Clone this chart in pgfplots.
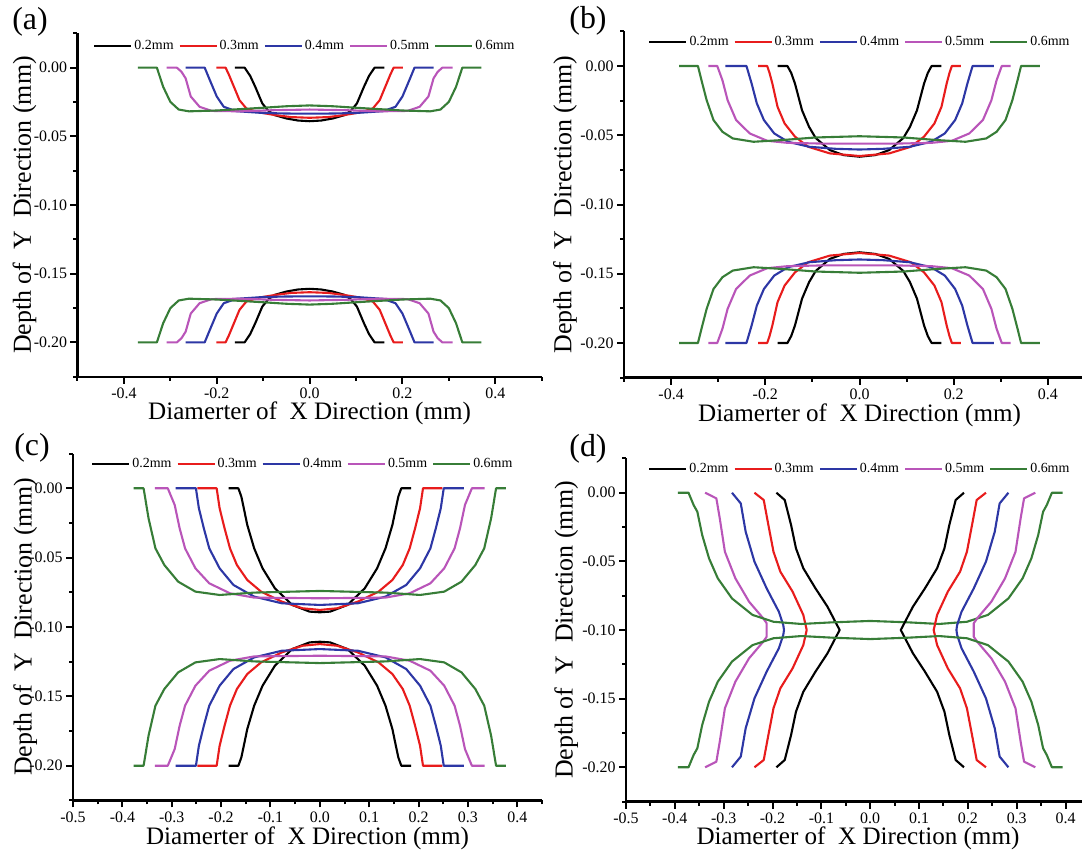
\documentclass[border=0pt]{standalone}
\usepackage{fontspec}
\setmainfont{Liberation Serif}
\usepackage{pgfplots}
\usepackage{pgfplotstable}
\pgfplotsset{compat=1.18}

\definecolor{cK}{RGB}{0,0,0}
\definecolor{cR}{RGB}{232,28,28}
\definecolor{cB}{RGB}{45,55,165}
\definecolor{cP}{RGB}{185,85,185}
\definecolor{cG}{RGB}{55,125,55}

\pgfplotsset{
  L/.style={line width=1.05bp, color=#1, line join=round,
    legend image code/.code={\draw[##1] (0bp,0bp) -- (18.5bp,0bp);}},
  panel/.style={
    scale only axis,
    axis lines=left,
    axis line style={-, line width=1.2bp, black},
    ymin=-0.225, ymax=0.025,
    ytick={-0.2,-0.15,-0.1,-0.05,0},
    yticklabels={-0.20,-0.15,-0.10,-0.05,0.00},
    minor ytick={-0.225,-0.175,-0.125,-0.075,-0.025,0.025},
    tick align=outside,
    major tick length=3.5bp, minor tick length=2bp,
    every tick/.style={black, line width=1bp},
    tick label style={font=\fontsize{8}{9}\selectfont},
    yticklabel style={inner xsep=1.5bp},
    xticklabel style={inner ysep=2bp},
    xlabel={Diamerter of\hspace{0.5em}X Direction (mm)},
    ylabel={Depth of\hspace{0.5em}Y\hspace{0.5em}Direction (mm)},
    xlabel style={font=\fontsize{12.6}{15}\selectfont, anchor=center},
    ylabel style={font=\fontsize{13}{15}\selectfont, anchor=center},
    legend columns=5,
    legend style={draw=none, fill=none, font=\fontsize{7}{8}\selectfont,
      inner sep=0pt, anchor=center,
      /tikz/every even column/.append style={column sep=1.5bp},
      nodes={inner xsep=1bp}},
    clip=false,
  },
  wide/.style={xmin=-0.5, xmax=0.5,
    xtick={-0.4,-0.2,0,0.2,0.4},
    xticklabels={-0.4,-0.2,0.0,0.2,0.4},
    minor xtick={-0.5,-0.3,-0.1,0.1,0.3,0.5}},
  fine/.style={xmin=-0.5, xmax=0.45,
    xtick={-0.5,-0.4,-0.3,-0.2,-0.1,0,0.1,0.2,0.3,0.4},
    xticklabels={-0.5,-0.4,-0.3,-0.2,-0.1,0.0,0.1,0.2,0.3,0.4},
    minor xtick={-0.45,-0.35,-0.25,-0.15,-0.05,0.05,0.15,0.25,0.35,0.45}},
}

% ---------------- panel (a) ----------------
\pgfplotstableread{
x t b
-0.161 0 -0.2
-0.140 0 -0.2
-0.128 -0.006 -0.194
-0.117 -0.014 -0.186
-0.102 -0.026 -0.174
-0.090 -0.031 -0.169
-0.076 -0.0345 -0.1655
-0.050 -0.037 -0.163
-0.025 -0.0385 -0.1615
0 -0.039 -0.161
0.025 -0.0385 -0.1615
0.050 -0.037 -0.163
0.076 -0.0345 -0.1655
0.090 -0.031 -0.169
0.102 -0.026 -0.174
0.117 -0.014 -0.186
0.128 -0.006 -0.194
0.140 0 -0.2
0.161 0 -0.2
}\aK
\pgfplotstableread{
x t b
-0.201 0 -0.2
-0.181 0 -0.2
-0.174 -0.005 -0.195
-0.166 -0.0115 -0.1885
-0.151 -0.0237 -0.1763
-0.136 -0.0298 -0.1702
-0.110 -0.0325 -0.1675
-0.075 -0.0345 -0.1655
-0.040 -0.036 -0.164
0 -0.0365 -0.1635
0.040 -0.036 -0.164
0.075 -0.0345 -0.1655
0.110 -0.0325 -0.1675
0.136 -0.0298 -0.1702
0.151 -0.0237 -0.1763
0.166 -0.0115 -0.1885
0.174 -0.005 -0.195
0.181 0 -0.2
0.201 0 -0.2
}\aR
\pgfplotstableread{
x t b
-0.267 0 -0.2
-0.226 0 -0.2
-0.215 -0.009 -0.191
-0.200 -0.021 -0.179
-0.185 -0.0285 -0.1715
-0.158 -0.0317 -0.1683
-0.100 -0.033 -0.167
-0.050 -0.0334 -0.1666
0 -0.0335 -0.1665
0.050 -0.0334 -0.1666
0.100 -0.033 -0.167
0.158 -0.0317 -0.1683
0.185 -0.0285 -0.1715
0.200 -0.021 -0.179
0.215 -0.009 -0.191
0.226 0 -0.2
0.267 0 -0.2
}\aB
\pgfplotstableread{
x t b
-0.308 0 -0.2
-0.286 0 -0.2
-0.276 -0.003 -0.197
-0.267 -0.0078 -0.1922
-0.256 -0.021 -0.179
-0.237 -0.0285 -0.1715
-0.211 -0.0315 -0.1685
-0.150 -0.0318 -0.1682
-0.080 -0.031 -0.169
0 -0.0305 -0.1695
0.080 -0.031 -0.169
0.150 -0.0318 -0.1682
0.211 -0.0315 -0.1685
0.237 -0.0285 -0.1715
0.256 -0.021 -0.179
0.267 -0.0078 -0.1922
0.276 -0.003 -0.197
0.286 0 -0.2
0.308 0 -0.2
}\aP
\pgfplotstableread{
x t b
-0.370 0 -0.2
-0.329 0 -0.2
-0.3155 -0.0139 -0.1861
-0.300 -0.0249 -0.1751
-0.282 -0.0305 -0.1695
-0.260 -0.0318 -0.1682
-0.200 -0.0312 -0.1688
-0.150 -0.0302 -0.1698
-0.100 -0.0292 -0.1708
-0.050 -0.0281 -0.1719
0 -0.0275 -0.1725
0.050 -0.0281 -0.1719
0.100 -0.0292 -0.1708
0.150 -0.0302 -0.1698
0.200 -0.0312 -0.1688
0.260 -0.0318 -0.1682
0.282 -0.0305 -0.1695
0.300 -0.0249 -0.1751
0.3155 -0.0139 -0.1861
0.329 0 -0.2
0.370 0 -0.2
}\aG

% ---------------- panel (b) ----------------
\pgfplotstableread{
x t b
-0.174 0 -0.2
-0.153 0 -0.2
-0.145 -0.005 -0.195
-0.137 -0.0127 -0.1873
-0.122 -0.032 -0.168
-0.107 -0.044 -0.156
-0.093 -0.052 -0.148
-0.063 -0.0607 -0.1393
-0.034 -0.0643 -0.1357
0 -0.0655 -0.1345
0.034 -0.0643 -0.1357
0.063 -0.0607 -0.1393
0.093 -0.052 -0.148
0.107 -0.044 -0.156
0.122 -0.032 -0.168
0.137 -0.0127 -0.1873
0.145 -0.005 -0.195
0.153 0 -0.2
0.174 0 -0.2
}\bK
\pgfplotstableread{
x t b
-0.215 0 -0.2
-0.196 0 -0.2
-0.191 -0.005 -0.195
-0.185 -0.0127 -0.1873
-0.174 -0.0295 -0.1705
-0.159 -0.0415 -0.1585
-0.137 -0.051 -0.149
-0.109 -0.0583 -0.1417
-0.063 -0.0631 -0.1369
0 -0.065 -0.135
0.063 -0.0631 -0.1369
0.109 -0.0583 -0.1417
0.137 -0.051 -0.149
0.159 -0.0415 -0.1585
0.174 -0.0295 -0.1705
0.185 -0.0127 -0.1873
0.191 -0.005 -0.195
0.196 0 -0.2
0.215 0 -0.2
}\bR
\pgfplotstableread{
x t b
-0.285 0 -0.2
-0.240 0 -0.2
-0.229 -0.0127 -0.1873
-0.218 -0.027 -0.173
-0.203 -0.039 -0.161
-0.181 -0.0487 -0.1513
-0.152 -0.0547 -0.1453
-0.107 -0.0583 -0.1417
-0.050 -0.0598 -0.1402
0 -0.0603 -0.1397
0.050 -0.0598 -0.1402
0.107 -0.0583 -0.1417
0.152 -0.0547 -0.1453
0.181 -0.0487 -0.1513
0.203 -0.039 -0.161
0.218 -0.027 -0.173
0.229 -0.0127 -0.1873
0.240 0 -0.2
0.285 0 -0.2
}\bB
\pgfplotstableread{
x t b
-0.321 0 -0.2
-0.302 0 -0.2
-0.291 -0.0103 -0.1897
-0.280 -0.0247 -0.1753
-0.262 -0.039 -0.161
-0.233 -0.0487 -0.1513
-0.196 -0.054 -0.146
-0.152 -0.0555 -0.1445
-0.080 -0.056 -0.144
0 -0.056 -0.144
0.080 -0.056 -0.144
0.152 -0.0555 -0.1445
0.196 -0.054 -0.146
0.233 -0.0487 -0.1513
0.262 -0.039 -0.161
0.280 -0.0247 -0.1753
0.291 -0.0103 -0.1897
0.302 0 -0.2
0.321 0 -0.2
}\bP
\pgfplotstableread{
x t b
-0.383 0 -0.2
-0.343 0 -0.2
-0.3355 -0.0103 -0.1897
-0.3245 -0.0247 -0.1753
-0.310 -0.039 -0.161
-0.291 -0.0475 -0.1525
-0.269 -0.0523 -0.1477
-0.225 -0.0547 -0.1453
-0.166 -0.0535 -0.1465
-0.093 -0.0516 -0.1484
0 -0.0507 -0.1493
0.093 -0.0516 -0.1484
0.166 -0.0535 -0.1465
0.225 -0.0547 -0.1453
0.269 -0.0523 -0.1477
0.291 -0.0475 -0.1525
0.310 -0.039 -0.161
0.3245 -0.0247 -0.1753
0.3355 -0.0103 -0.1897
0.343 0 -0.2
0.383 0 -0.2
}\bG

% ---------------- panel (c) ----------------
\pgfplotstableread{
x t b
-0.185 0 -0.2
-0.165 0 -0.2
-0.159 -0.006 -0.194
-0.154 -0.0144 -0.1856
-0.147 -0.0264 -0.1736
-0.133 -0.0433 -0.1567
-0.116 -0.0577 -0.1423
-0.091 -0.0721 -0.1279
-0.056 -0.0841 -0.1159
-0.021 -0.0889 -0.1111
0 -0.0894 -0.1106
0.021 -0.0889 -0.1111
0.056 -0.0841 -0.1159
0.091 -0.0721 -0.1279
0.116 -0.0577 -0.1423
0.133 -0.0433 -0.1567
0.147 -0.0264 -0.1736
0.154 -0.0144 -0.1856
0.159 -0.006 -0.194
0.165 0 -0.2
0.185 0 -0.2
}\cK
\pgfplotstableread{
x t b
-0.248 0 -0.2
-0.209 0 -0.2
-0.203 -0.0144 -0.1856
-0.193 -0.0288 -0.1712
-0.182 -0.0433 -0.1567
-0.168 -0.0553 -0.1447
-0.147 -0.0661 -0.1339
-0.119 -0.0745 -0.1255
-0.077 -0.0817 -0.1183
-0.035 -0.0865 -0.1135
0 -0.0877 -0.1123
0.035 -0.0865 -0.1135
0.077 -0.0817 -0.1183
0.119 -0.0745 -0.1255
0.147 -0.0661 -0.1339
0.168 -0.0553 -0.1447
0.182 -0.0433 -0.1567
0.193 -0.0288 -0.1712
0.203 -0.0144 -0.1856
0.209 0 -0.2
0.248 0 -0.2
}\cR
\pgfplotstableread{
x t b
-0.292 0 -0.2
-0.251 0 -0.2
-0.245 -0.0144 -0.1856
-0.235 -0.0288 -0.1712
-0.224 -0.0433 -0.1567
-0.203 -0.0577 -0.1423
-0.175 -0.0697 -0.1303
-0.133 -0.0781 -0.1219
-0.077 -0.0829 -0.1171
0 -0.0841 -0.1159
0.077 -0.0829 -0.1171
0.133 -0.0781 -0.1219
0.175 -0.0697 -0.1303
0.203 -0.0577 -0.1423
0.224 -0.0433 -0.1567
0.235 -0.0288 -0.1712
0.245 -0.0144 -0.1856
0.251 0 -0.2
0.292 0 -0.2
}\cB
\pgfplotstableread{
x t b
-0.334 0 -0.2
-0.308 0 -0.2
-0.294 -0.012 -0.188
-0.284 -0.0288 -0.1712
-0.273 -0.0433 -0.1567
-0.252 -0.0577 -0.1423
-0.224 -0.0685 -0.1315
-0.182 -0.0757 -0.1243
-0.133 -0.0788 -0.1212
0 -0.0793 -0.1207
0.133 -0.0788 -0.1212
0.182 -0.0757 -0.1243
0.224 -0.0685 -0.1315
0.252 -0.0577 -0.1423
0.273 -0.0433 -0.1567
0.284 -0.0288 -0.1712
0.294 -0.012 -0.188
0.308 0 -0.2
0.334 0 -0.2
}\cP
\pgfplotstableread{
x t b
-0.377 0 -0.2
-0.357 0 -0.2
-0.347 -0.0216 -0.1784
-0.333 -0.0433 -0.1567
-0.315 -0.0553 -0.1447
-0.287 -0.0673 -0.1327
-0.252 -0.0745 -0.1255
-0.203 -0.0769 -0.1231
-0.133 -0.0752 -0.1248
0 -0.074 -0.126
0.133 -0.0752 -0.1248
0.203 -0.0769 -0.1231
0.252 -0.0745 -0.1255
0.287 -0.0673 -0.1327
0.315 -0.0553 -0.1447
0.333 -0.0433 -0.1567
0.347 -0.0216 -0.1784
0.357 0 -0.2
0.377 0 -0.2
}\cG

% ---------------- panel (d) ----------------
\pgfplotstableread{
xl xr y
-0.192 0.192 0
-0.175 0.175 -0.0053
-0.162 0.162 -0.0235
-0.152 0.152 -0.0405
-0.137 0.137 -0.055
-0.112 0.112 -0.0697
-0.0875 0.0875 -0.083
-0.0626 0.0626 -0.1
-0.0875 0.0875 -0.117
-0.112 0.112 -0.1303
-0.137 0.137 -0.145
-0.152 0.152 -0.1595
-0.162 0.162 -0.1765
-0.175 0.175 -0.1947
-0.192 0.192 -0.2
}\dK
\pgfplotstableread{
xl xr y
-0.237 0.237 0
-0.218 0.218 -0.0053
-0.2085 0.2085 -0.0235
-0.198 0.198 -0.043
-0.184 0.184 -0.0575
-0.159 0.159 -0.072
-0.137 0.137 -0.089
-0.130 0.130 -0.1
-0.137 0.137 -0.111
-0.159 0.159 -0.128
-0.184 0.184 -0.1425
-0.198 0.198 -0.157
-0.2085 0.2085 -0.1765
-0.218 0.218 -0.1947
-0.237 0.237 -0.2
}\dR
\pgfplotstableread{
xl xr y
-0.283 0.283 0
-0.265 0.265 -0.0078
-0.255 0.255 -0.0284
-0.237 0.237 -0.0502
-0.212 0.212 -0.0697
-0.187 0.187 -0.0867
-0.178 0.178 -0.0964
-0.1765 0.1765 -0.1
-0.178 0.178 -0.1036
-0.187 0.187 -0.1133
-0.212 0.212 -0.1303
-0.237 0.237 -0.1498
-0.255 0.255 -0.1716
-0.265 0.265 -0.1922
-0.283 0.283 -0.2
}\dB
\pgfplotstableread{
xl xr y
-0.338 0.338 0
-0.315 0.315 -0.0041
-0.308 0.308 -0.0187
-0.2975 0.2975 -0.043
-0.276 0.276 -0.0624
-0.248 0.248 -0.0794
-0.219 0.219 -0.0915
-0.212 0.212 -0.0951
-0.212 0.212 -0.1049
-0.219 0.219 -0.1085
-0.248 0.248 -0.1206
-0.276 0.276 -0.1376
-0.2975 0.2975 -0.157
-0.308 0.308 -0.1813
-0.315 0.315 -0.1959
-0.338 0.338 -0.2
}\dP
\pgfplotstableread{
x t b
-0.394 0 -0.2
-0.372 0 -0.2
-0.3615 -0.009 -0.191
-0.354 -0.0138 -0.1862
-0.344 -0.0308 -0.1692
-0.330 -0.0478 -0.1522
-0.312 -0.0624 -0.1376
-0.283 -0.077 -0.123
-0.241 -0.089 -0.111
-0.198 -0.094 -0.106
-0.141 -0.0956 -0.1044
-0.077 -0.0944 -0.1056
0 -0.0934 -0.1066
0.077 -0.0944 -0.1056
0.141 -0.0956 -0.1044
0.198 -0.094 -0.106
0.241 -0.089 -0.111
0.283 -0.077 -0.123
0.312 -0.0624 -0.1376
0.330 -0.0478 -0.1522
0.344 -0.0308 -0.1692
0.354 -0.0138 -0.1862
0.3615 -0.009 -0.191
0.372 0 -0.2
0.394 0 -0.2
}\dG

\begin{document}
\begin{tikzpicture}
\path[use as bounding box] (0bp,0bp) rectangle (541bp,-427bp);
\clip (0bp,0bp) rectangle (541bp,-427bp);

% (a)
\begin{axis}[panel, wide,
  at={(38.75bp,-188.35bp)}, anchor=south west,
  width=232.1bp, height=171.7bp,
  ylabel style={at={(axis description cs:-0.114,0.5)}},
  xlabel style={at={(axis description cs:0.5,-0.108)}},
  legend style={at={(0.49,0.963)}}]
\addplot[L=cK] table[x=x,y=t]{\aK};
\addplot[L=cR] table[x=x,y=t]{\aR};
\addplot[L=cB] table[x=x,y=t]{\aB};
\addplot[L=cP] table[x=x,y=t]{\aP};
\addplot[L=cG] table[x=x,y=t]{\aG};
\addplot[L=cK,forget plot] table[x=x,y=b]{\aK};
\addplot[L=cR,forget plot] table[x=x,y=b]{\aR};
\addplot[L=cB,forget plot] table[x=x,y=b]{\aB};
\addplot[L=cP,forget plot] table[x=x,y=b]{\aP};
\addplot[L=cG,forget plot] table[x=x,y=b]{\aG};
\legend{0.2mm,0.3mm,0.4mm,0.5mm,0.6mm}
\end{axis}

% (b)
\begin{axis}[panel, wide,
  at={(312bp,-188.8bp)}, anchor=south west,
  width=235.5bp, height=173.1bp,
  ylabel style={at={(axis description cs:-0.125,0.5)}},
  xlabel style={at={(axis description cs:0.5,-0.108)}},
  legend style={at={(0.501,0.969)}}]
\addplot[L=cK] table[x=x,y=t]{\bK};
\addplot[L=cR] table[x=x,y=t]{\bR};
\addplot[L=cB] table[x=x,y=t]{\bB};
\addplot[L=cP] table[x=x,y=t]{\bP};
\addplot[L=cG] table[x=x,y=t]{\bG};
\addplot[L=cK,forget plot] table[x=x,y=b]{\bK};
\addplot[L=cR,forget plot] table[x=x,y=b]{\bR};
\addplot[L=cB,forget plot] table[x=x,y=b]{\bB};
\addplot[L=cP,forget plot] table[x=x,y=b]{\bP};
\addplot[L=cG,forget plot] table[x=x,y=b]{\bG};
\legend{0.2mm,0.3mm,0.4mm,0.5mm,0.6mm}
\end{axis}

% (c)
\begin{axis}[panel, fine,
  at={(36.5bp,-400.2bp)}, anchor=south west,
  width=234.5bp, height=173.4bp,
  ylabel style={at={(axis description cs:-0.102,0.5)}},
  xlabel style={at={(axis description cs:0.5,-0.108)}},
  legend style={at={(0.49,0.97)}}]
\addplot[L=cK] table[x=x,y=t]{\cK};
\addplot[L=cR] table[x=x,y=t]{\cR};
\addplot[L=cB] table[x=x,y=t]{\cB};
\addplot[L=cP] table[x=x,y=t]{\cP};
\addplot[L=cG] table[x=x,y=t]{\cG};
\addplot[L=cK,forget plot] table[x=x,y=b]{\cK};
\addplot[L=cR,forget plot] table[x=x,y=b]{\cR};
\addplot[L=cB,forget plot] table[x=x,y=b]{\cB};
\addplot[L=cP,forget plot] table[x=x,y=b]{\cP};
\addplot[L=cG,forget plot] table[x=x,y=b]{\cG};
\legend{0.2mm,0.3mm,0.4mm,0.5mm,0.6mm}
\end{axis}

% (d)
\begin{axis}[panel, fine,
  at={(313bp,-400.8bp)}, anchor=south west,
  width=232bp, height=171.6bp,
  ylabel style={at={(axis description cs:-0.129,0.5)}},
  xlabel style={at={(axis description cs:0.5,-0.108)}},
  legend style={at={(0.504,0.969)}}]
\addplot[L=cK] table[x=xl,y=y]{\dK};
\addplot[L=cR] table[x=xl,y=y]{\dR};
\addplot[L=cB] table[x=xl,y=y]{\dB};
\addplot[L=cP] table[x=xl,y=y]{\dP};
\addplot[L=cG] table[x=x,y=t]{\dG};
\addplot[L=cK,forget plot] table[x=xr,y=y]{\dK};
\addplot[L=cR,forget plot] table[x=xr,y=y]{\dR};
\addplot[L=cB,forget plot] table[x=xr,y=y]{\dB};
\addplot[L=cP,forget plot] table[x=xr,y=y]{\dP};
\addplot[L=cG,forget plot] table[x=x,y=b]{\dG};
\legend{0.2mm,0.3mm,0.4mm,0.5mm,0.6mm}
\end{axis}

\node[font=\fontsize{16}{17}\selectfont] at (15bp,-11bp) {(a)};
\node[font=\fontsize{16}{17}\selectfont] at (294bp,-10.5bp) {(b)};
\node[font=\fontsize{16}{17}\selectfont] at (16bp,-223.7bp) {(c)};
\node[font=\fontsize{16}{17}\selectfont] at (294bp,-224.5bp) {(d)};
\end{tikzpicture}
\end{document}
